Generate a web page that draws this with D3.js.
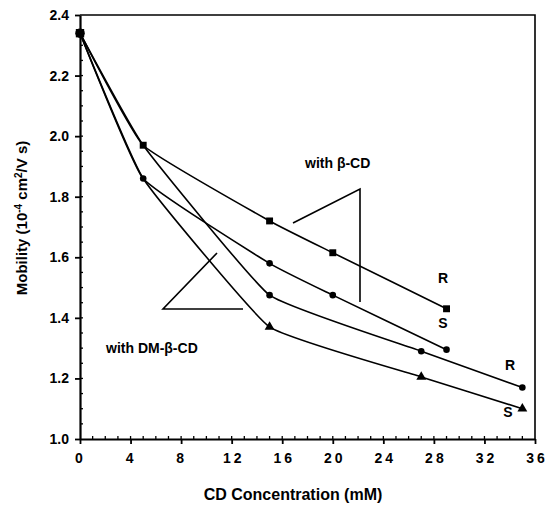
<!DOCTYPE html>
<meta charset="utf-8">
<script src="https://d3js.org/d3.v7.min.js"></script>
<style>
  body { margin: 0; background: #fff; }
  text { font-family: "Liberation Sans", Arial, Helvetica, sans-serif; font-weight: bold; fill: #000; }
</style>
<svg id="chart" width="547" height="507"></svg>
<script>
// data
var conc = [0, 5, 15, 20, 29];
var concDM = [0, 5, 15, 27, 35];
var betaR = [2.34, 1.97, 1.72, 1.615, 1.43];
var betaS = [2.34, 1.86, 1.58, 1.475, 1.295];
var dmR = [2.34, 1.97, 1.475, 1.29, 1.17];
var dmS = [2.34, 1.86, 1.37, 1.205, 1.10];
var xTicks = [0, 4, 8, 12, 16, 20, 24, 28, 32, 36];
var yTicks = [1.0, 1.2, 1.4, 1.6, 1.8, 2.0, 2.2, 2.4];

var series = [
  { xs: conc, ys: betaR, mark: "square", from: 0 },
  { xs: conc, ys: betaS, mark: "circle", from: 0 },
  { xs: concDM, ys: dmR, mark: "circle", from: 2 },
  { xs: concDM, ys: dmS, mark: "triangle", from: 2 }
];

var svg = d3.select("#chart");
var x = d3.scaleLinear().domain([0, 36]).range([80, 535]);
var y = d3.scaleLinear().domain([1.0, 2.4]).range([439, 15]);

// frame (top and right)
svg.append("path")
  .attr("d", "M" + x(0) + "," + y(2.4) + "H" + x(36) + "V" + y(1.0))
  .attr("fill", "none").attr("stroke", "#000").attr("stroke-width", 1.6);

// minor ticks (inward)
var g = svg.append("g");
g.selectAll(".mx").data(d3.range(1, 36)).enter().append("line")
  .attr("x1", d => x(d)).attr("x2", d => x(d))
  .attr("y1", y(1.0)).attr("y2", y(1.0) - 3)
  .attr("stroke", "#000").attr("stroke-width", 1.3);
g.selectAll(".my").data(d3.range(1, 28).map(i => 1 + i * 0.05)).enter().append("line")
  .attr("x1", x(0)).attr("x2", x(0) + 3)
  .attr("y1", d => y(d)).attr("y2", d => y(d))
  .attr("stroke", "#000").attr("stroke-width", 1.3);

// axes
var xAxis = svg.append("g").attr("transform", "translate(0," + y(1.0) + ")")
  .call(d3.axisBottom(x).tickValues(xTicks).tickSize(5).tickSizeOuter(0).tickPadding(9)
    .tickFormat(d => String(d)));
xAxis.selectAll("text").attr("font-size", 14).attr("letter-spacing", "3px")
  .attr("text-anchor", "middle").attr("dx", d => d >= 10 ? "1.5px" : 0);
var yAxis = svg.append("g").attr("transform", "translate(" + x(0) + ",0)")
  .call(d3.axisLeft(y).tickValues(yTicks).tickSize(5).tickSizeOuter(0).tickPadding(6)
    .tickFormat(d3.format(".1f")));
yAxis.selectAll("text").attr("font-size", 14);
svg.selectAll(".domain").attr("stroke-width", 2.2);
svg.selectAll(".tick line").attr("stroke-width", 1.8);

// curves (gently smoothed)
var line = d3.line().curve(d3.curveCardinal.tension(0.65));
series.forEach(function (s) {
  var pts = s.xs.map((v, i) => [x(v), y(s.ys[i])]);
  svg.append("path").attr("d", line(pts))
    .attr("fill", "none").attr("stroke", "#000").attr("stroke-width", 1.6);
});

// markers
var sym = { square: d3.symbolSquare, circle: d3.symbolCircle, triangle: d3.symbolTriangle };
var size = { square: 48, circle: 34, triangle: 42 };
series.forEach(function (s) {
  s.xs.forEach(function (v, i) {
    if (i < s.from) return;
    svg.append("path")
      .attr("d", d3.symbol().type(sym[s.mark]).size(i === 0 ? 70 : size[s.mark])())
      .attr("transform", "translate(" + x(v) + "," + y(s.ys[i]) + ")")
      .attr("fill", "#000");
  });
});

// annotation brackets
svg.append("path").attr("d", "M293,223L360,189V302")
  .attr("fill", "none").attr("stroke", "#000").attr("stroke-width", 1.6);
svg.append("path").attr("d", "M217,253L163,309H243")
  .attr("fill", "none").attr("stroke", "#000").attr("stroke-width", 1.6);

svg.append("text").attr("x", 305).attr("y", 168).attr("font-size", 14).text("with \u03b2-CD");
svg.append("text").attr("x", 106).attr("y", 353).attr("font-size", 14).text("with DM-\u03b2-CD");

var rs = [["R", 443, 283], ["S", 443, 328], ["R", 510, 370], ["S", 508, 417]];
rs.forEach(function (d) {
  svg.append("text").attr("x", d[1]).attr("y", d[2]).attr("text-anchor", "middle")
    .attr("font-size", 14).text(d[0]);
});

// axis titles
svg.append("text").attr("x", 293).attr("y", 500).attr("text-anchor", "middle")
  .attr("font-size", 16).text("CD Concentration (mM)");
var yl = svg.append("text").attr("transform", "translate(27,218) rotate(-90)")
  .attr("text-anchor", "middle").attr("font-size", 15);
yl.append("tspan").text("Mobility (10");
yl.append("tspan").attr("dy", -5).attr("font-size", 10).text("-4");
yl.append("tspan").attr("dy", 5).text(" cm");
yl.append("tspan").attr("dy", -5).attr("font-size", 10).text("2");
yl.append("tspan").attr("dy", 5).text("/V s)");
</script>
